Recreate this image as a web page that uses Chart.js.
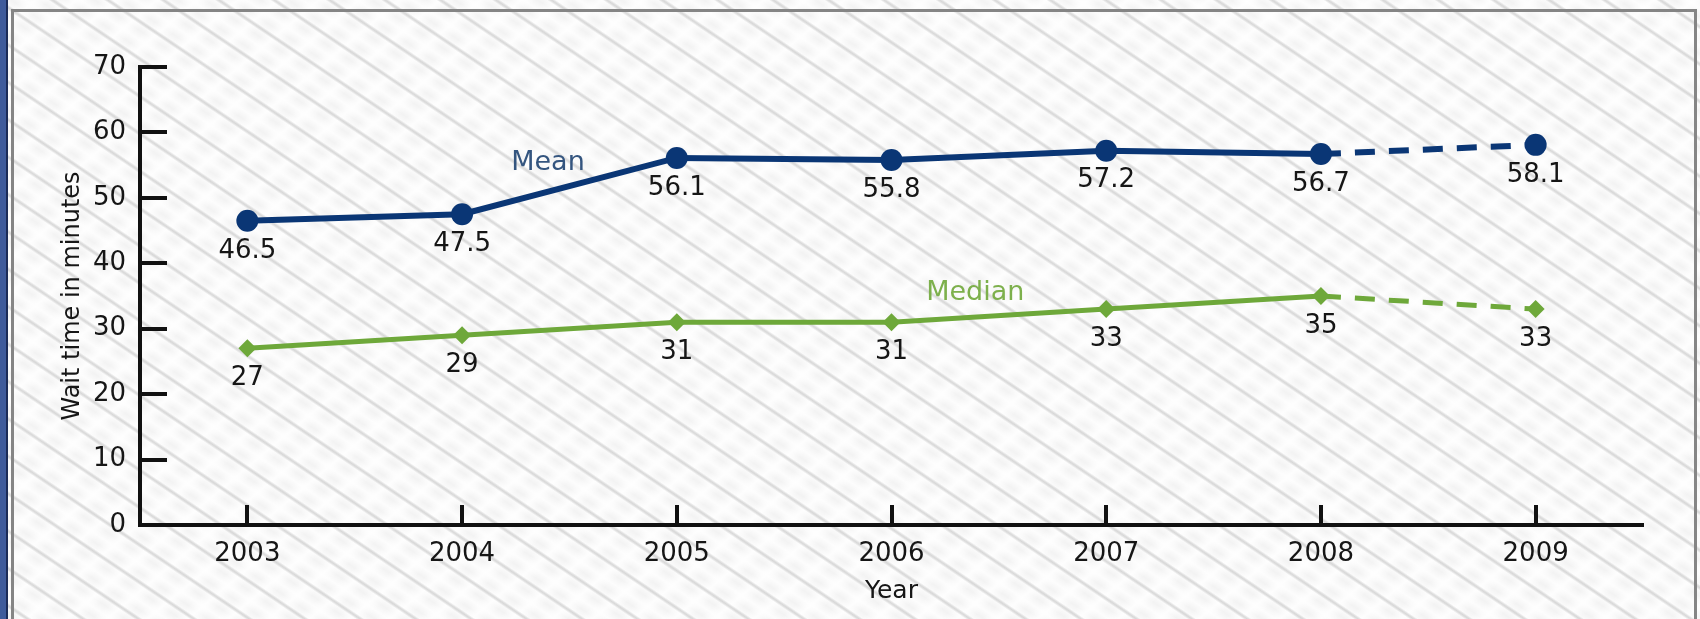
<!DOCTYPE html>
<html>
<head>
<meta charset="utf-8">
<script src="https://cdn.jsdelivr.net/npm/chart.js@4/dist/chart.umd.min.js"></script>
<style>
html, body { margin:0; padding:0; width:1700px; height:619px; overflow:hidden; }
body {
  position:relative;
  background-color:#f3f3f3;
  background-image:
    repeating-linear-gradient(34deg, rgba(0,0,0,0) 0px, rgba(0,0,0,0) 13px, rgba(110,110,110,0.18) 14.5px, rgba(110,110,110,0.26) 15.5px, rgba(110,110,110,0.18) 16.5px, rgba(0,0,0,0) 18px, rgba(0,0,0,0) 31px),
    repeating-linear-gradient(-40deg, rgba(255,255,255,0) 0px, rgba(255,255,255,0.85) 10px, rgba(255,255,255,0) 20px, rgba(255,255,255,0) 26px),
    repeating-linear-gradient(34deg, rgba(255,255,255,0.8) 0px, rgba(255,255,255,0) 8px, rgba(255,255,255,0.8) 15.5px);
}
#strip { position:absolute; left:0; top:0; width:6px; height:619px; background:#3f5b9b; border-right:2px solid #1c2c58; }
#frame { position:absolute; left:11px; top:9px; width:1686px; height:640px; border:3px solid #858585; box-sizing:border-box; }
#c { position:absolute; left:0; top:0; }
</style>
</head>
<body>
<div id="strip"></div>
<div id="frame"></div>
<canvas id="c" width="1700" height="619"></canvas>
<script>
// ---- data ----
const years = ['2003', '2004', '2005', '2006', '2007', '2008', '2009'];
const meanValues = [46.5, 47.5, 56.1, 55.8, 57.2, 56.7, 58.1];
const medianValues = [27, 29, 31, 31, 33, 35, 33];
const yTickValues = [0, 10, 20, 30, 40, 50, 60, 70];
const seriesNames = ['Mean', 'Median'];
const yTitle = 'Wait time in minutes';
const xTitle = 'Year';
const dashedFromIndex = 5; // 2008 -> 2009 segment is dashed

// ---- annotation anchors (in data coordinates: category index, value) ----
const seriesLabelAnchorX = [1.4, 3.39];
const seriesLabelAnchorY = [55.4, 35.5];

const FONT = "'DejaVu Sans', sans-serif";
const TEXT = '#161616';
const meanColor = '#0a3675';
const medianColor = '#6ea83a';
const meanLabelColor = '#34557f';
const medianLabelColor = '#7db04c';

const innerTicks = {
  id: 'innerTicks',
  beforeDatasetsDraw(chart) {
    const { ctx, scales: { x, y } } = chart;
    ctx.save();
    ctx.strokeStyle = '#111';
    ctx.lineWidth = 4;
    y.ticks.forEach((t, i) => {
      const py = Math.round(y.getPixelForTick(i));
      ctx.beginPath(); ctx.moveTo(y.right, py); ctx.lineTo(y.right + 27, py); ctx.stroke();
    });
    x.ticks.forEach((t, i) => {
      const px = Math.round(x.getPixelForTick(i));
      ctx.beginPath(); ctx.moveTo(px, x.top); ctx.lineTo(px, x.top - 20); ctx.stroke();
    });
    ctx.restore();
  }
};

const valueLabels = {
  id: 'valueLabels',
  afterDatasetsDraw(chart) {
    const { ctx } = chart;
    ctx.save();
    ctx.font = '26px ' + FONT;
    ctx.fillStyle = TEXT;
    ctx.textAlign = 'center';
    ctx.textBaseline = 'middle';
    chart.data.datasets.forEach((ds, di) => {
      const meta = chart.getDatasetMeta(di);
      meta.data.forEach((pt, i) => {
        ctx.fillText(String(ds.data[i]), pt.x, pt.y + 30);
      });
    });
    // series name labels
    ctx.font = '27px ' + FONT;
    const { x, y } = chart.scales;
    const cols = [meanLabelColor, medianLabelColor];
    seriesNames.forEach((name, i) => {
      ctx.fillStyle = cols[i];
      ctx.fillText(name, x.getPixelForValue(seriesLabelAnchorX[i]), y.getPixelForValue(seriesLabelAnchorY[i]));
    });
    ctx.restore();
  }
};

new Chart(document.getElementById('c'), {
  type: 'line',
  data: {
    labels: years,
    datasets: [
      {
        label: seriesNames[0],
        data: meanValues,
        borderColor: meanColor,
        backgroundColor: meanColor,
        borderWidth: 6,
        pointStyle: 'circle',
        pointRadius: 11,
        pointBorderWidth: 0,
        tension: 0,
        segment: { borderDash: ctx => ctx.p0DataIndex >= dashedFromIndex ? [20, 14] : undefined }
      },
      {
        label: seriesNames[1],
        data: medianValues,
        borderColor: medianColor,
        backgroundColor: medianColor,
        borderWidth: 5,
        pointStyle: 'rectRot',
        pointRadius: 9,
        pointBorderWidth: 0,
        tension: 0,
        segment: { borderDash: ctx => ctx.p0DataIndex >= dashedFromIndex ? [20, 14] : undefined }
      }
    ]
  },
  options: {
    responsive: false,
    animation: false,
    devicePixelRatio: 1,
    layout: { padding: { left: 0, right: 57, top: 67, bottom: 0 } },
    plugins: { legend: { display: false }, tooltip: { enabled: false } },
    scales: {
      x: {
        type: 'category',
        offset: true,
        grid: { display: false },
        border: { display: true, color: '#111', width: 4 },
        ticks: { color: TEXT, font: { family: FONT, size: 26 }, padding: 6, maxRotation: 0 },
        title: { display: true, text: xTitle, color: TEXT, font: { family: FONT, size: 25 }, padding: { top: 0, bottom: 13 } },
        afterFit: s => { s.height = 94; }
      },
      y: {
        min: 0,
        max: 70,
        grid: { display: false },
        border: { display: true, color: '#111', width: 4 },
        afterBuildTicks: s => { s.ticks = yTickValues.map(v => ({ value: v })); },
        ticks: { color: TEXT, font: { family: FONT, size: 26 }, padding: 6 },
        title: { display: true, text: yTitle, color: TEXT, font: { family: FONT, size: 24 }, padding: { top: 58, bottom: 0 } },
        afterFit: s => { s.width = 140; }
      }
    }
  },
  plugins: [innerTicks, valueLabels]
});
</script>
</body>
</html>
